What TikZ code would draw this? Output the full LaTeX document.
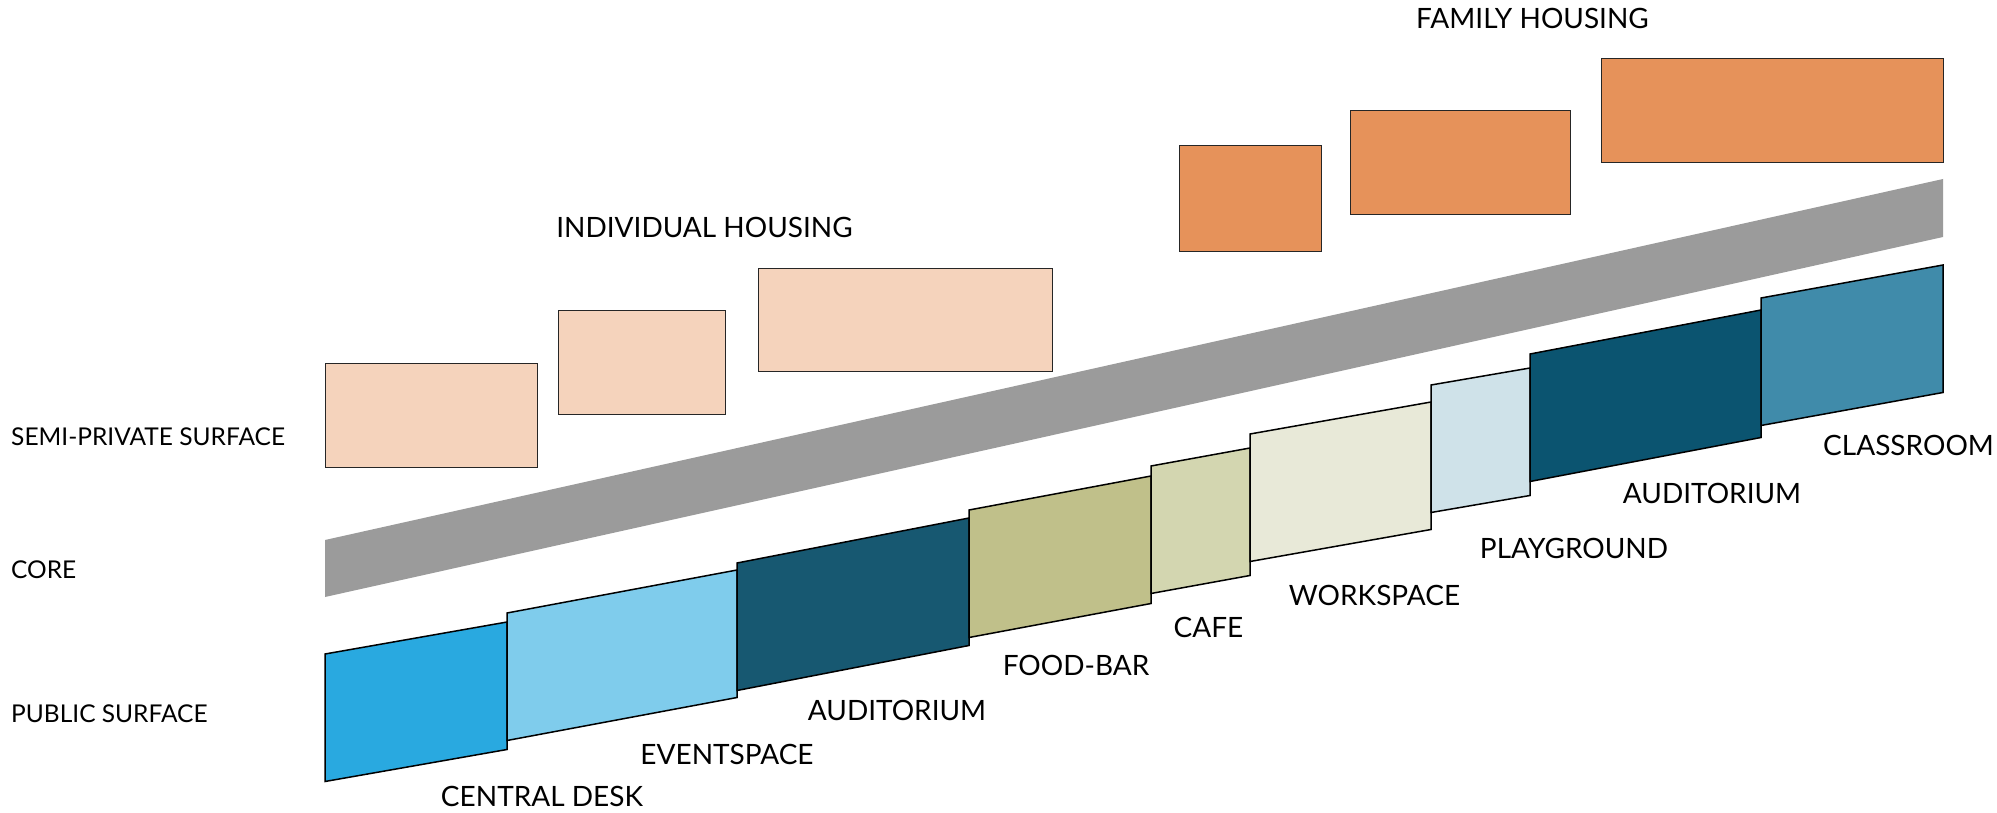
\documentclass[tikz,border=0pt]{standalone}
\usepackage{fontspec}
\setmainfont{Lato}
\definecolor{indiv}{HTML}{F5D3BC}
\definecolor{family}{HTML}{E6925A}
\definecolor{coregray}{HTML}{9B9B9B}
\definecolor{cdesk}{HTML}{29A9E0}
\definecolor{event}{HTML}{7FCCEC}
\definecolor{audone}{HTML}{175871}
\definecolor{foodbar}{HTML}{C0C08A}
\definecolor{cafe}{HTML}{D3D6B0}
\definecolor{work}{HTML}{E8E9D8}
\definecolor{play}{HTML}{CFE2E9}
\definecolor{audtwo}{HTML}{0B5470}
\definecolor{classr}{HTML}{408BAA}
\newcommand\pubseg[5]{%
  \filldraw[seg, fill=#5] (#1,#3) -- (#2,#4) -- (#2,#4+127.5) -- (#1,#3+127.5) -- cycle;}
\begin{document}
\begin{tikzpicture}[x=1pt,y=-1pt,
  lbl/.style={inner sep=0pt, font=\fontsize{28}{30}\selectfont},
  sidelbl/.style={inner sep=0pt, anchor=west, font=\fontsize{24.5}{26}\selectfont},
  house/.style={draw=black!85, line width=1.3pt, inner sep=0pt, anchor=north west},
  seg/.style={draw=black, line width=1.5pt, line join=miter}]
\useasboundingbox (0,0) rectangle (1997,813);
% housing boxes
\node[house, fill=indiv, minimum width=212pt, minimum height=104pt] (i1) at (325,363) {};
\node[house, fill=indiv, minimum width=167pt, minimum height=104pt] (i2) at (558,310) {};
\node[house, fill=indiv, minimum width=294pt, minimum height=103pt] (i3) at (758,268) {};
\node[house, fill=family, minimum width=142pt, minimum height=106pt] (f1) at (1179,145) {};
\node[house, fill=family, minimum width=220pt, minimum height=104pt] (f2) at (1350,110) {};
\node[house, fill=family, minimum width=342pt, minimum height=104pt] (f3) at (1601,58) {};
% core band
\fill[coregray] (325,540) -- (1943,179) -- (1943,237) -- (325,597) -- cycle;
% public surface segments
\pubseg{325}{507}{654}{622}{cdesk}
\pubseg{507}{737}{613}{570}{event}
\pubseg{737}{969}{563}{518}{audone}
\pubseg{969}{1151}{510}{476}{foodbar}
\pubseg{1151}{1250}{466}{448}{cafe}
\pubseg{1250}{1431}{434}{402}{work}
\pubseg{1431}{1530}{385}{368}{play}
\pubseg{1530}{1761}{354}{310}{audtwo}
\pubseg{1761}{1943}{298}{265}{classr}
% labels
\node[lbl] (lih) at (704.5,227) {INDIVIDUAL HOUSING};
\node[lbl] (lfh) at (1532.5,18) {FAMILY HOUSING};
\node[sidelbl] (lsp) at (11,437) {SEMI-PRIVATE SURFACE};
\node[sidelbl] (lco) at (11,570) {CORE};
\node[sidelbl] (lpu) at (11,714) {PUBLIC SURFACE};
\node[lbl] (lcd) at (542,796) {CENTRAL DESK};
\node[lbl] (lev) at (727,754) {EVENTSPACE};
\node[lbl] (la1) at (897,710) {AUDITORIUM};
\node[lbl] (lfb) at (1076,665) {FOOD-BAR};
\node[lbl] (lca) at (1208.5,627) {CAFE};
\node[lbl] (lws) at (1374.5,595) {WORKSPACE};
\node[lbl] (lpg) at (1574,548) {PLAYGROUND};
\node[lbl] (la2) at (1712,493) {AUDITORIUM};
\node[lbl] (lcl) at (1908.5,445) {CLASSROOM};
\end{tikzpicture}
\end{document}
